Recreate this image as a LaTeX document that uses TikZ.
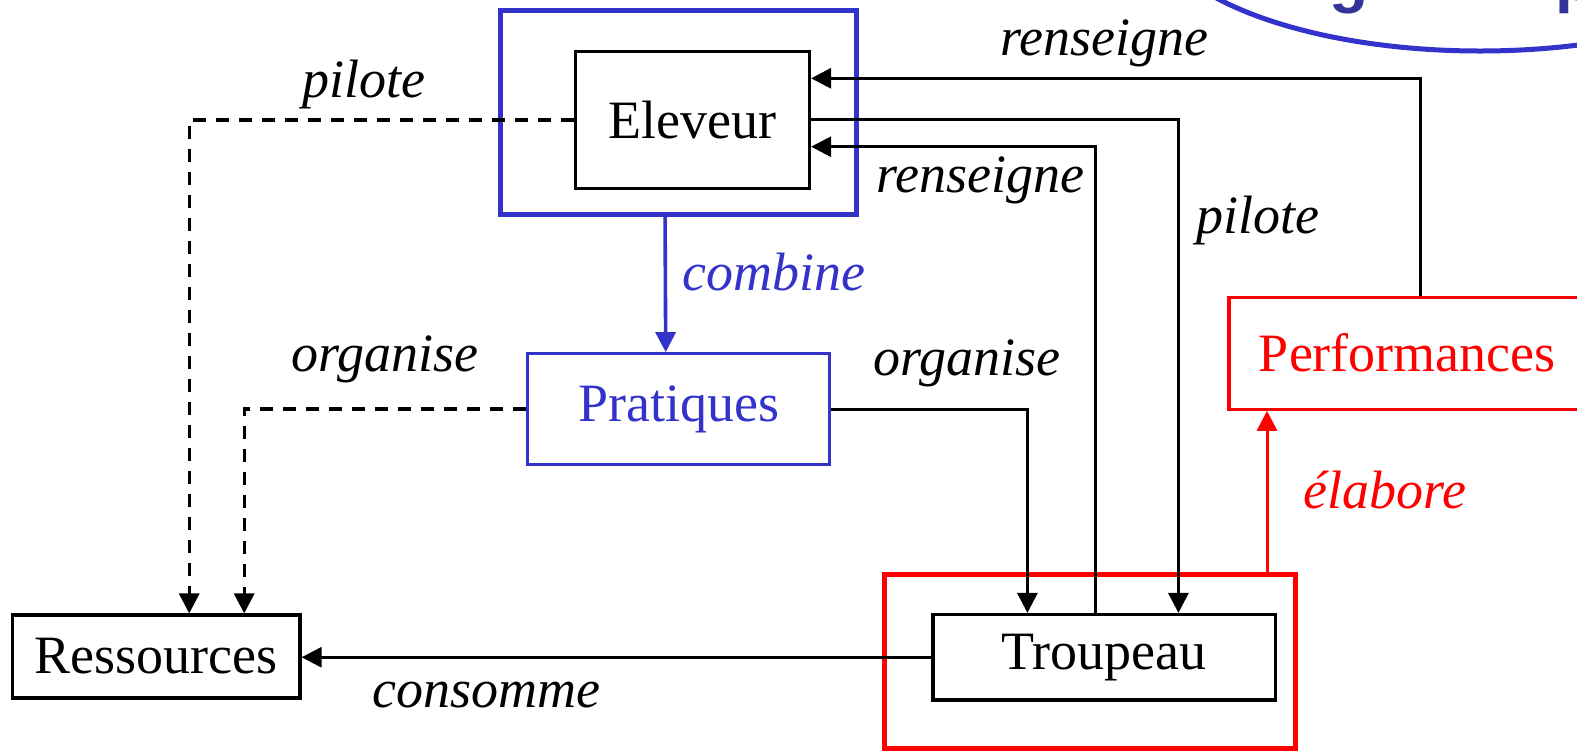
\documentclass[tikz,border=0pt]{standalone}
\usepackage{fontspec}
\setmainfont{Liberation Serif}
\newfontfamily\hdrfont{Liberation Sans}
\usetikzlibrary{arrows.meta}
\definecolor{myblue}{RGB}{51,51,204}
\definecolor{hdrblue}{RGB}{51,51,153}
\definecolor{myred}{RGB}{255,0,0}
\begin{document}
\begin{tikzpicture}[x=0.5pt,y=-0.5pt,
  txt/.style={font=\fontsize{27}{30}\selectfont},
  lbl/.style={font=\fontsize{27}{30}\selectfont\itshape, inner sep=0pt, anchor=base},
  blkbox/.style={draw=black, line width=1.6pt, fill=white, txt, inner sep=0pt},
  tip/.style={-{Triangle[length=10pt,width=10pt]}},
  conn/.style={draw=black, line width=1.5pt, tip},
  dconn/.style={conn, line width=1.7pt, dash pattern=on 6.5pt off 5pt},
  hdr/.style={overlay, font=\hdrfont\bfseries\fontsize{32}{36}\selectfont, text=hdrblue, anchor=base west, inner sep=0pt},
]
\useasboundingbox (0,0) rectangle (1577,751);
\clip (0,0) rectangle (1577,751);
\fill[white] (0,0) rectangle (1577,751);

% partial title ellipse
\draw[overlay, myblue, line width=2.5pt] (1480,-82) ellipse [x radius=165pt, y radius=66.5pt];
\node[hdr] (hg) at (1329,0) {g};
\node[hdr] (hp) at (1555.5,0) {p};

% frames
\node[draw=myblue, line width=2.5pt, minimum width=178.25pt, minimum height=102.25pt, inner sep=0pt] (frame) at (678.25,112.25) {};
\node[overlay, draw=myred, line width=2.5pt, minimum width=205.5pt, minimum height=87.25pt, inner sep=0pt] (outer) at (1090,661.25) {};

% boxes
\node[blkbox, minimum width=117pt, minimum height=68.5pt] (el) at (692.5,119.8) {Eleveur};
\node[draw=myblue, line width=1.5pt, text=myblue, txt, inner sep=0pt, minimum width=151pt, minimum height=55.5pt] (pr) at (678.9,409.1) {Pratiques};
\node[overlay, draw=myred, line width=1.6pt, text=myred, txt, inner sep=0pt, minimum width=178.5pt, minimum height=56pt] (perf) at (1407.4,353.2) {Performances};
\node[blkbox, minimum width=143.8pt, minimum height=41.5pt] (res) at (156.2,656.5) {Ressources};
\node[blkbox, minimum width=171.25pt, minimum height=42.75pt] (tr) at (1104.25,657.25) {Troupeau};

% connectors
\draw[dconn] (el.west) -| ([xshift=89.2pt]res.north west);
\draw[dconn] (pr.west) -| ([xshift=116.7pt]res.north west);
\draw[conn, draw=myblue, fill=myblue, line width=1.8pt] ([xshift=-6.6pt]frame.south) -- ([xshift=-6.6pt]pr.north);
\draw[conn] (pr.east) -| ([xshift=48pt]tr.north west);
\draw[conn] ([xshift=81.85pt]tr.north west) |- ([yshift=-13.45pt]el.east);
\draw[conn] (el.east) -| ([xshift=123.5pt]tr.north west);
\draw[conn] ([xshift=6.3pt]perf.north) |- ([yshift=20.75pt]el.east);
\coordinate (ela) at ([xshift=192.5pt]outer.north west);
\draw[conn, draw=myred, fill=myred] (ela) -- (ela |- perf.south);
\draw[conn] (tr.west) -- (tr.west -| res.east);

% labels
\node[lbl] (l1) at (1104,55) {renseigne};
\node[lbl] (l2) at (364,97.3) {pilote};
\node[lbl] (l3) at (980,192.7) {renseigne};
\node[lbl] (l4) at (1258,233.3) {pilote};
\node[lbl, text=myblue] (l5) at (774,290) {combine};
\node[lbl] (l6) at (385,371.7) {organise};
\node[lbl] (l7) at (967,375) {organise};
\node[lbl, text=myred] (l8) at (1385,508) {élabore};
\node[lbl] (l9) at (486.5,707) {consomme};
\end{tikzpicture}
\end{document}
